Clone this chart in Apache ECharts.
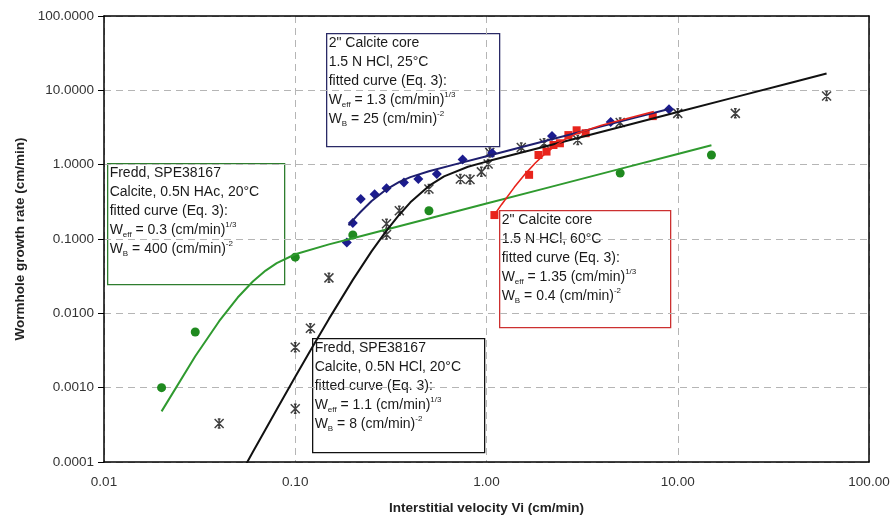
<!DOCTYPE html>
<html>
<head>
<meta charset="utf-8">
<script src="https://cdn.jsdelivr.net/npm/echarts@6/dist/echarts.min.js"></script>
<style>
  html, body { margin: 0; padding: 0; background: #fff; }
  #chart { width: 894px; height: 518px; }
</style>
</head>
<body>
<div id="chart"></div>
<script>
// Axis tick values
const xTicks = [0.01, 0.1, 1, 10, 100];
const yTicks = [0.0001, 0.001, 0.01, 0.1, 1, 10, 100];

// Fredd, 0.5N HAc, 20°C – measured points
const haclPtsX = [0.02, 0.03, 0.1, 0.2, 0.5, 5, 15];
const haclPtsY = [0.001, 0.0056, 0.057, 0.113, 0.24, 0.77, 1.35];
// fitted curve
const haclFitX = [0.02, 0.03, 0.04, 0.05, 0.06, 0.07, 0.08, 0.1, 0.15, 0.2, 0.5, 1, 2, 5, 10, 15];
const haclFitY = [0.00048, 0.00265, 0.00784, 0.0163, 0.0268, 0.0376, 0.0474, 0.0623, 0.0847, 0.1026, 0.189, 0.3, 0.476, 0.877, 1.393, 1.825];

// Fredd, 0.5N HCl, 20°C – measured points
const hclPtsX = [0.04, 0.1, 0.1, 0.12, 0.15, 0.3, 0.3, 0.35, 0.5, 0.73, 0.82, 0.94, 1.02, 1.04, 1.52, 2.0, 3.0, 5.0, 10, 20, 60];
const hclPtsY = [0.00033, 0.0035, 0.00052, 0.0063, 0.03, 0.16, 0.115, 0.24, 0.47, 0.64, 0.63, 0.80, 1.02, 1.46, 1.70, 1.94, 2.15, 3.7, 4.9, 4.9, 8.4];
// fitted curve
const hclFitX = [0.05, 0.06, 0.07, 0.08, 0.1, 0.12, 0.15, 0.2, 0.25, 0.3, 0.35, 0.4, 0.5, 0.6, 0.8, 1, 2, 5, 10, 20, 40, 60];
const hclFitY = [0.0000585, 0.000136, 0.000276, 0.000509, 0.0014, 0.00317, 0.00842, 0.0282, 0.0676, 0.1298, 0.212, 0.311, 0.518, 0.697, 0.937, 1.1, 1.746, 3.216, 5.106, 8.105, 12.87, 16.86];

// 2" calcite core, 1.5 N HCl, 25°C – measured points
const core25PtsX = [0.186, 0.2, 0.22, 0.26, 0.30, 0.37, 0.44, 0.55, 0.75, 1.07, 2.2, 4.46, 9.0];
const core25PtsY = [0.09, 0.164, 0.345, 0.40, 0.48, 0.575, 0.64, 0.75, 1.17, 1.44, 2.43, 3.75, 5.56];
// fitted curve
const core25FitX = [0.19, 0.2, 0.21, 0.22, 0.25, 0.3, 0.35, 0.4, 0.5, 0.7, 1, 2, 4, 6, 9];
const core25FitY = [0.152, 0.178, 0.205, 0.233, 0.322, 0.466, 0.587, 0.680, 0.816, 1.025, 1.3, 2.063, 3.276, 4.293, 5.625];

// 2" calcite core, 1.5 N HCl, 60°C – measured points
const core60PtsX = [1.1, 1.67, 1.87, 2.06, 2.24, 2.42, 2.68, 2.96, 3.3, 7.4];
const core60PtsY = [0.21, 0.73, 1.35, 1.5, 1.84, 1.94, 2.5, 2.9, 2.65, 4.5];
// fitted curve
const core60FitX = [1.1, 1.2, 1.4, 1.6, 1.8, 2.0, 2.3, 2.6, 3.0, 4.0, 5.5, 7.5];
const core60FitY = [0.212, 0.292, 0.499, 0.758, 1.054, 1.365, 1.82, 2.22, 2.657, 3.39, 4.206, 5.172];

const zip = (xs, ys) => xs.map((x, i) => [x, ys[i]]);

const FONT = '"Liberation Sans", Arial, sans-serif';
const GREEN = '#1f8a1f';
const GREEN_LINE = '#2f9a2f';
const BLUE = '#1c1c8e';
const BLUE_LINE = '#1e1e6e';
const RED = '#e8241c';
const BLACK = '#111111';

// asterisk-like marker: X crossed by a vertical stroke
const STAR = 'path://M0,0L10,10M10,0L0,10M5,0L5,10M3.5,0L6.5,0M3.5,10L6.5,10';

function fitLine(name, xs, ys, color, width) {
  return {
    name, type: 'line', data: zip(xs, ys),
    showSymbol: false, smooth: false,
    lineStyle: { color, width }, z: 3, silent: true
  };
}
function points(name, xs, ys, symbol, size, color, extra) {
  return Object.assign({
    name, type: 'scatter', data: zip(xs, ys),
    symbol, symbolSize: size,
    itemStyle: { color, opacity: 1 }, z: 2, silent: true
  }, extra || {});
}

const rich = {
  sub: { fontSize: 8, fontFamily: FONT, verticalAlign: 'bottom', lineHeight: 19, padding: [0, 0, 1, 0] },
  sup: { fontSize: 8, fontFamily: FONT, verticalAlign: 'top', lineHeight: 19 }
};

function box(x, y, w, h, borderColor, lines) {
  return {
    type: 'group', left: x, top: y, z: 100,
    children: [
      { type: 'rect', shape: { x: 0, y: 0, width: w, height: h },
        style: { fill: '#fff', stroke: borderColor, lineWidth: 1.3 } },
      { type: 'text', x: 2, y: 0,
        style: { text: lines.join('\n'), font: '14px ' + FONT, fill: '#1a1a1a',
                 lineHeight: 19, rich, verticalAlign: 'top' } }
    ]
  };
}

// frame-only axes on the top and right sides
function frameAxis(type, position, min, max) {
  return {
    type, logBase: 10, min, max, position,
    axisLine: { show: true, lineStyle: { color: '#000', width: 1.5 } },
    axisTick: { show: false }, axisLabel: { show: false }, splitLine: { show: false }
  };
}

const chart = echarts.init(document.getElementById('chart'), null, { renderer: 'canvas' });

chart.setOption({
  backgroundColor: '#fff',
  animation: false,
  grid: { left: 104, right: 25, top: 16, bottom: 56, containLabel: false, outerBoundsMode: 'none' },
  xAxis: [{
    type: 'log', logBase: 10, min: xTicks[0], max: xTicks[xTicks.length - 1],
    name: 'Interstitial velocity Vi (cm/min)', nameLocation: 'middle', nameGap: 39,
    nameTextStyle: { fontFamily: FONT, fontSize: 13.5, fontWeight: 'bold', color: '#222' },
    axisLine: { lineStyle: { color: '#000', width: 1.5 } },
    axisTick: { show: false },
    axisLabel: { fontFamily: FONT, fontSize: 13.5, color: '#333', margin: 13,
                 formatter: v => Number(v).toFixed(2) },
    splitLine: { show: true, lineStyle: { color: '#b5b5b5', type: [7, 5], width: 1 } },
    minorTick: { show: false }
  }, frameAxis('log', 'top', xTicks[0], xTicks[xTicks.length - 1])],
  yAxis: [{
    type: 'log', logBase: 10, min: yTicks[0], max: yTicks[yTicks.length - 1],
    name: 'Wormhole growth rate (cm/min)', nameLocation: 'middle', nameGap: 77,
    nameTextStyle: { fontFamily: FONT, fontSize: 13.5, fontWeight: 'bold', color: '#222' },
    axisLine: { lineStyle: { color: '#000', width: 1.5 } },
    axisTick: { show: true, inside: false, length: 6, lineStyle: { color: '#000', width: 1 } },
    axisLabel: { fontFamily: FONT, fontSize: 13.5, color: '#333', margin: 10,
                 formatter: v => Number(v).toFixed(4) },
    splitLine: { show: true, lineStyle: { color: '#b5b5b5', type: [7, 5], width: 1 } }
  }, frameAxis('log', 'right', yTicks[0], yTicks[yTicks.length - 1])],
  series: [
    points('HAc data', haclPtsX, haclPtsY, 'circle', 9, GREEN),
    points('HCl 20°C data', hclPtsX, hclPtsY, STAR, 9, BLACK,
           { itemStyle: { color: 'none', borderColor: BLACK, borderWidth: 1.5 } }),
    points('Core 25°C data', core25PtsX, core25PtsY, 'diamond', 10, BLUE),
    points('Core 60°C data', core60PtsX, core60PtsY, 'rect', 8, RED),
    fitLine('HAc fit', haclFitX, haclFitY, GREEN_LINE, 2),
    fitLine('HCl 20°C fit', hclFitX, hclFitY, BLACK, 2),
    fitLine('Core 25°C fit', core25FitX, core25FitY, BLUE_LINE, 2),
    fitLine('Core 60°C fit', core60FitX, core60FitY, RED, 1.6)
  ],
  graphic: [
    box(326, 33, 173, 113, '#2a2a66', [
      '2" Calcite core',
      '1.5 N HCl, 25°C',
      'fitted curve (Eq. 3):',
      'W{sub|eff} = 1.3 (cm/min){sup|1/3}',
      'W{sub|B} = 25 (cm/min){sup|-2}'
    ]),
    box(107, 163, 177, 121, '#2e7d2e', [
      'Fredd, SPE38167',
      'Calcite, 0.5N HAc, 20°C',
      'fitted curve (Eq. 3):',
      'W{sub|eff} = 0.3 (cm/min){sup|1/3}',
      'W{sub|B} = 400 (cm/min){sup|-2}'
    ]),
    box(499, 210, 171, 117, '#cc3030', [
      '2" Calcite core',
      '1.5 N HCl, 60°C',
      'fitted curve (Eq. 3):',
      'W{sub|eff} = 1.35 (cm/min){sup|1/3}',
      'W{sub|B} = 0.4 (cm/min){sup|-2}'
    ]),
    box(312, 338, 172, 114, '#111', [
      'Fredd, SPE38167',
      'Calcite, 0.5N HCl, 20°C',
      'fitted curve (Eq. 3):',
      'W{sub|eff} = 1.1 (cm/min){sup|1/3}',
      'W{sub|B} = 8 (cm/min){sup|-2}'
    ])
  ]
});
</script>
</body>
</html>
